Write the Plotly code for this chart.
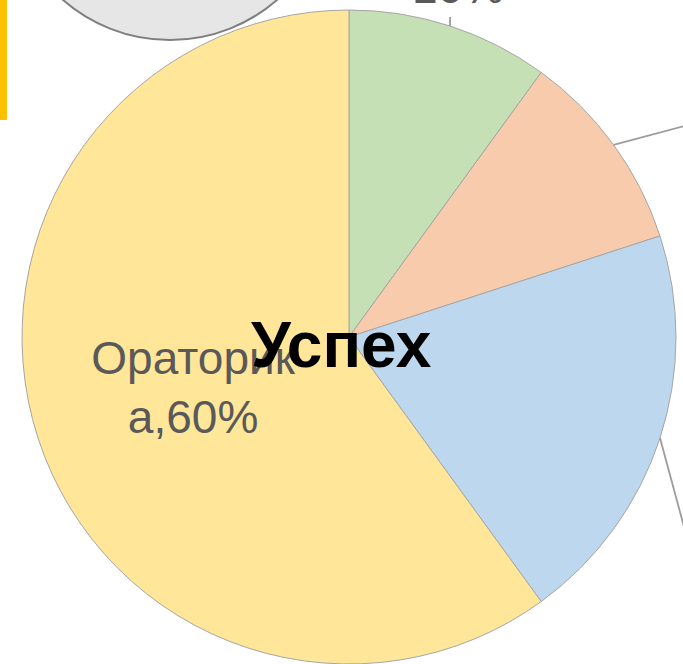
import math
import plotly.graph_objects as go

labels = ["Категория 1", "Категория 2", "Категория 3", "Ораторика"]
values = [10, 10, 20, 60]
colors = ["#C5E0B4", "#F8CBAD", "#BDD7EE", "#FFE699"]
text_labels = ["10%", "10%", "20%", "Ораторик<br>а,60%"]
text_positions = ["none", "none", "none", "inside"]
center_title = "Успех"

# leader-line direction/length (px) from each slice's rim midpoint (style, not data);
# only the first outside label falls inside the visible crop
leader_vectors = [(0, -9), (140, -37), (46, 170), None]
label_visible = [True, False, False, False]

W, H = 683, 664
cx, cy, r = 349, 337, 327
FONT = "Liberation Sans, Arial"

fig = go.Figure(go.Pie(
    labels=labels,
    values=values,
    sort=False,
    direction="clockwise",
    rotation=0,
    text=text_labels,
    textinfo="text",
    textposition=text_positions,
    insidetextorientation="horizontal",
    automargin=False,
    textfont=dict(family=FONT, size=46, color="#595959"),
    marker=dict(colors=colors, line=dict(color="#A6A6A6", width=1)),
    domain=dict(x=[(cx - r) / W, (cx + r) / W], y=[1 - (cy + r) / H, 1 - (cy - r) / H]),
    showlegend=False,
    hoverinfo="label+percent",
))

total = sum(values)
cum = 0
for val, txt, vec, vis in zip(values, text_labels, leader_vectors, label_visible):
    mid = (cum + val / 2) / total * 2 * math.pi
    cum += val
    if vec is None:
        continue
    px = cx + r * math.sin(mid)
    py = cy - r * math.cos(mid)
    ex, ey = px + vec[0], py + vec[1]
    fig.add_shape(type="line", xref="paper", yref="paper",
                  x0=px / W, y0=1 - py / H, x1=ex / W, y1=1 - ey / H,
                  line=dict(color="#9C9C9C", width=1.8))
    if vis:
        fig.add_annotation(
            x=(ex + 8) / W, y=1 - (ey - 2) / H, xref="paper", yref="paper",
            text=txt, showarrow=False, xanchor="center", yanchor="bottom",
            font=dict(family=FONT, size=46, color="#595959"),
        )

fig.add_annotation(
    x=(cx - 8) / W, y=1 - 345 / H, xref="paper", yref="paper",
    text="<b>" + center_title + "</b>", showarrow=False,
    font=dict(family=FONT, size=64, color="#000000"),
    xanchor="center", yanchor="middle",
)

# decorative shapes from the surrounding slide
fig.add_shape(type="circle", xref="paper", yref="paper",
              x0=7 / W, x1=333 / W, y0=1 - 40 / H, y1=1 + 286 / H,
              fillcolor="#E6E6E6", line=dict(color="#7F7F7F", width=2), layer="below")
fig.add_shape(type="rect", xref="paper", yref="paper",
              x0=0, x1=7 / W, y0=1 - 120 / H, y1=1,
              fillcolor="#FFC000", line=dict(width=0), layer="below")

fig.update_layout(
    width=W, height=H,
    margin=dict(l=0, r=0, t=0, b=0, pad=0, autoexpand=False),
    paper_bgcolor="#FFFFFF",
    plot_bgcolor="#FFFFFF",
)

fig.write_html("out.html", config={"displayModeBar": False},
               post_script="document.body.style.margin='0';")
